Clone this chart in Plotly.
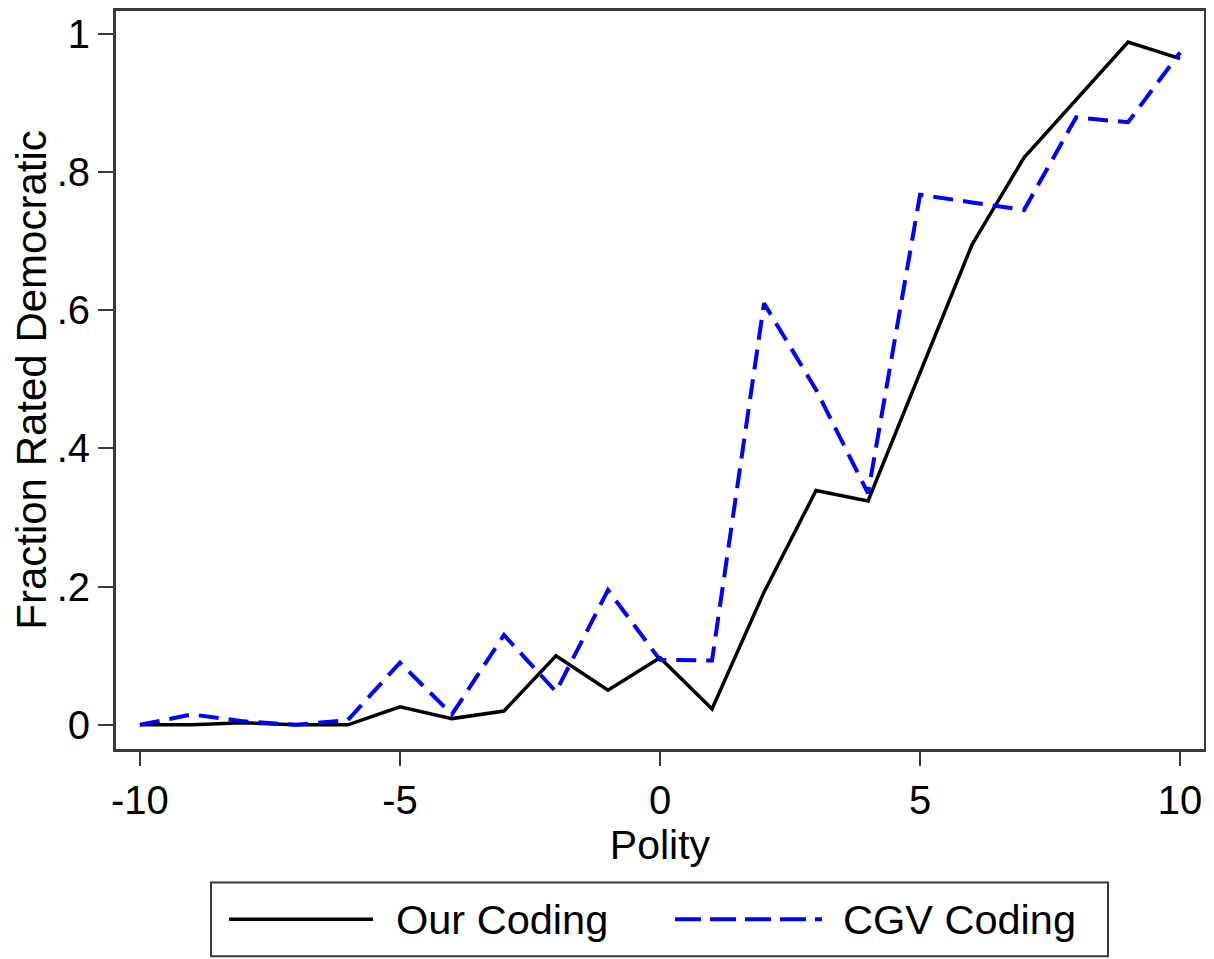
import plotly.graph_objects as go

polity = [-10, -9, -8, -7, -6, -5, -4, -3, -2, -1, 0, 1, 2, 3, 4, 5, 6, 7, 8, 9, 10]
our_coding = [0.0, 0.0, 0.003, 0.0, 0.0, 0.026, 0.009, 0.02, 0.1, 0.05, 0.097, 0.023,
              0.192, 0.339, 0.324, 0.51, 0.695, 0.821, 0.905, 0.988, 0.964]
cgv_coding = [0.0, 0.015, 0.005, 0.0, 0.007, 0.09, 0.015, 0.13, 0.048, 0.195, 0.094, 0.093,
              0.61, 0.485, 0.335, 0.767, 0.756, 0.745, 0.879, 0.872, 0.973]
x_ticks = [-10, -5, 0, 5, 10]
x_tick_labels = ["-10", "-5", "0", "5", "10"]
y_ticks = [0, 0.2, 0.4, 0.6, 0.8, 1]
y_tick_labels = ["0", ".2", ".4", ".6", ".8", "1"]
series_names = ["Our Coding", "CGV Coding"]

FONT = "Liberation Sans, Arial, Helvetica, sans-serif"
AX = "#3a3a3a"

# page body has an 8px offset; plot area in page coords: x 116..1204, y 8..749
L, R, T, B = 108, 1214 - 1196, 0, 959 - 741
PW, PH = 1088, 741

fig = go.Figure()
fig.add_trace(go.Scatter(x=polity, y=our_coding, mode="lines", name=series_names[0],
                         line=dict(color="black", width=3.5), showlegend=False))
fig.add_trace(go.Scatter(x=polity, y=cgv_coding, mode="lines", name=series_names[1],
                         line=dict(color="#0000ff", width=4, dash="20px,10px"), showlegend=False))

fig.update_layout(
    width=1214, height=959,
    margin=dict(l=L, r=R, t=T, b=B),
    paper_bgcolor="white", plot_bgcolor="white",
    font=dict(family=FONT, size=40, color="black"),
    xaxis=dict(range=[-10.46, 10.46], tickvals=x_ticks, ticktext=x_tick_labels,
               ticks="outside", ticklen=14, tickwidth=2, tickcolor=AX, showline=True,
               linecolor=AX, linewidth=3, mirror=True, showgrid=False, zeroline=False,
               title=dict(text="Polity", standoff=1, font=dict(size=41)),
               tickfont=dict(size=40)),
    yaxis=dict(range=[-0.035, 1.033], tickvals=y_ticks, ticktext=y_tick_labels,
               ticks="outside", ticklen=15, tickwidth=2, tickcolor=AX, showline=True,
               linecolor=AX, linewidth=3, mirror=True, showgrid=False, zeroline=False,
               title=dict(text="Fraction Rated Democratic", standoff=18, font=dict(size=42)),
               tickfont=dict(size=40)),
)

def px(x):
    return (x - 116) / PW

def py(y):
    return (749 - y) / PH

# Custom legend box (Stata style)
fig.add_shape(type="rect", xref="paper", yref="paper",
              x0=px(211), x1=px(1108), y0=py(957), y1=py(883),
              line=dict(color=AX, width=2), fillcolor="white")
ly = py(920)
fig.add_shape(type="line", xref="paper", yref="paper",
              x0=px(229), x1=px(373), y0=ly, y1=ly,
              line=dict(color="black", width=3.5))
fig.add_shape(type="line", xref="paper", yref="paper",
              x0=px(675), x1=px(822), y0=ly, y1=ly,
              line=dict(color="#0000ff", width=4, dash="26px,9px"))
fig.add_annotation(xref="paper", yref="paper", x=px(394), y=ly,
                   text=series_names[0], showarrow=False, xanchor="left", yanchor="middle",
                   font=dict(size=41.5, family=FONT))
fig.add_annotation(xref="paper", yref="paper", x=px(841), y=ly,
                   text=series_names[1], showarrow=False, xanchor="left", yanchor="middle",
                   font=dict(size=41.5, family=FONT))

fig.write_html("out.html")
